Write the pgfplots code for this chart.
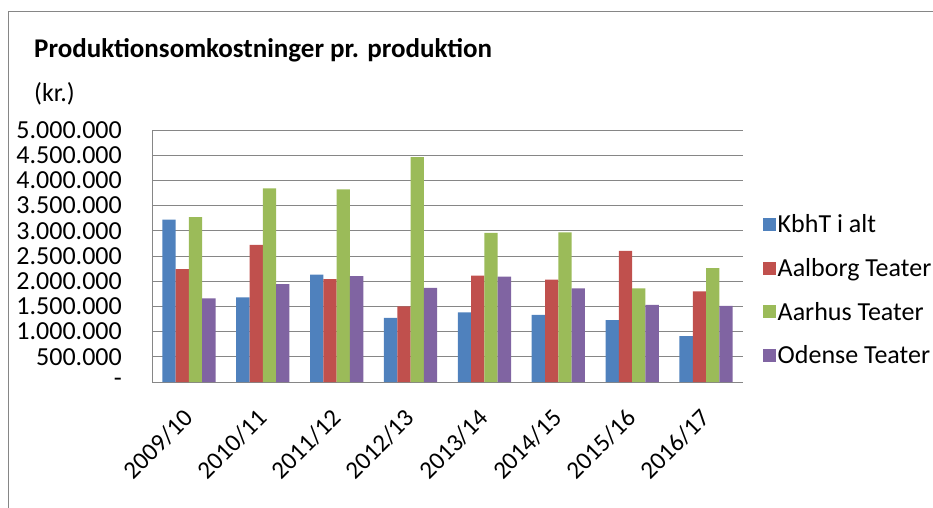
\documentclass[border=0pt]{standalone}
\usepackage{pgfplots}
\pgfplotsset{compat=1.18}
\usepackage{fontspec}
\setmainfont{Carlito}
\definecolor{kbh}{HTML}{4F81BD}
\definecolor{aal}{HTML}{C0504D}
\definecolor{aar}{HTML}{9BBB59}
\definecolor{ode}{HTML}{8064A2}
\definecolor{gridgray}{HTML}{868686}
\begin{document}
\begin{tikzpicture}
\useasboundingbox (0,0) rectangle (933pt,507pt);
\clip (0,0) rectangle (933pt,507pt);
\draw[gridgray, line width=1pt] (8pt,-5pt) -- (8pt,495pt) -- (940pt,495pt);
\node[anchor=west, inner sep=0pt, font=\fontsize{27}{30}\selectfont\bfseries] at (34pt,457pt) {Produktionsomkostninger pr. produktion};
\node[anchor=west, inner sep=0pt, font=\fontsize{26}{29}\selectfont] at (34pt,413pt) {(kr.)};
\begin{axis}[
  at={(152pt,125pt)}, anchor=south west,
  scale only axis, width=591pt, height=252pt,
  ybar=0pt, bar width=13.3pt,
  xmin=-0.5, xmax=7.5, ymin=0, ymax=5000000,
  xtick=data,
  xticklabels={2009/10,2010/11,2011/12,2012/13,2013/14,2014/15,2015/16,2016/17},
  ytick={0,500000,1000000,1500000,2000000,2500000,3000000,3500000,4000000,4500000,5000000},
  yticklabels={-\hspace{10pt},500.000,1.000.000,1.500.000,2.000.000,2.500.000,3.000.000,3.500.000,4.000.000,4.500.000,5.000.000},
  scaled y ticks=false,
  axis x line*=bottom, axis y line*=left,
  axis line style={gridgray, line width=1pt},
  ymajorgrids, grid style={gridgray, line width=1pt},
  major tick length=0pt,
  tick label style={font=\fontsize{25}{28}\selectfont, black},
  yticklabel style={inner sep=0pt, xshift=-30pt, font=\fontsize{26}{28}\selectfont},
  xticklabel style={inner sep=0pt, xshift=-7pt, yshift=-25pt, rotate=45, anchor=north east},
  /pgf/number format/assume math mode=true,
  legend style={draw=none, fill=none, at={(1.033,0.365)}, anchor=west,
    font=\fontsize{26}{29}\selectfont, row sep=20pt, inner sep=0pt,
    legend cell align=left},
]
\addplot[fill=kbh, draw=none, legend image code/.code={\fill[kbh] (0pt,-6.5pt) rectangle (13pt,6.5pt);}] coordinates {(0,3220000) (1,1680000) (2,2130000) (3,1270000) (4,1380000) (5,1330000) (6,1230000) (7,910000)};
\addplot[fill=aal, draw=none, legend image code/.code={\fill[aal] (0pt,-6.5pt) rectangle (13pt,6.5pt);}] coordinates {(0,2240000) (1,2720000) (2,2040000) (3,1500000) (4,2110000) (5,2030000) (6,2600000) (7,1800000)};
\addplot[fill=aar, draw=none, legend image code/.code={\fill[aar] (0pt,-6.5pt) rectangle (13pt,6.5pt);}] coordinates {(0,3270000) (1,3840000) (2,3820000) (3,4460000) (4,2960000) (5,2970000) (6,1860000) (7,2260000)};
\addplot[fill=ode, draw=none, legend image code/.code={\fill[ode] (0pt,-6.5pt) rectangle (13pt,6.5pt);}] coordinates {(0,1660000) (1,1940000) (2,2100000) (3,1870000) (4,2090000) (5,1860000) (6,1530000) (7,1510000)};
\legend{KbhT i alt, Aalborg Teater, Aarhus Teater, Odense Teater}
\end{axis}
\end{tikzpicture}
\end{document}
